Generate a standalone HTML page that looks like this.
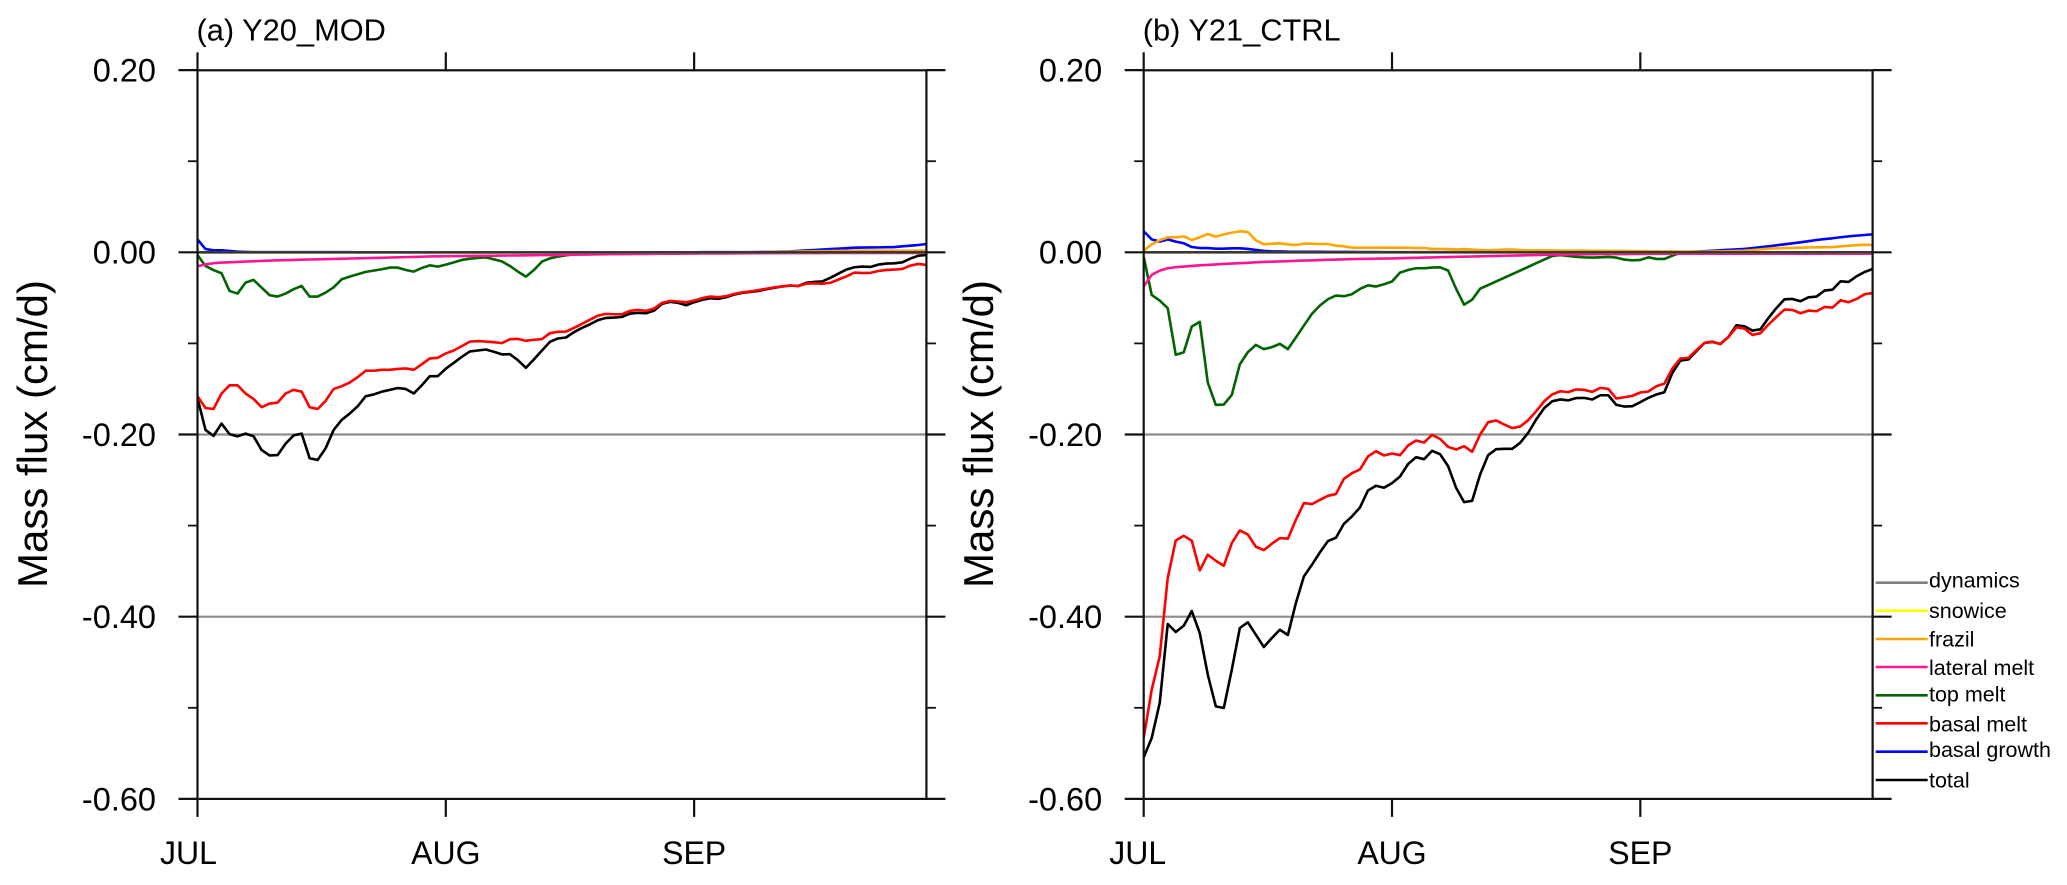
<!DOCTYPE html>
<html>
<head>
<meta charset="utf-8">
<title>Mass flux</title>
<style>
html,body{margin:0;padding:0;background:#fff;}
body{width:2067px;height:885px;overflow:hidden;}
svg{display:block;font-family:"Liberation Sans",sans-serif;fill:#000;}
</style>
</head>
<body>
<svg id="chart" xmlns="http://www.w3.org/2000/svg" width="2067" height="885" viewBox="0 0 2067 885">
<rect width="2067" height="885" fill="#fff"/>
<g id="panels"></g>
<g font-size="21.5">
<g><line x1="1875.7" x2="1927.7" y1="582.7" y2="582.7" stroke="#808080" stroke-width="2.6"/><text x="1929" y="587.7">dynamics</text></g>
<g><line x1="1875.7" x2="1927.7" y1="610.7" y2="610.7" stroke="#ffff00" stroke-width="2.6"/><text x="1929" y="618">snowice</text></g>
<g><line x1="1875.7" x2="1927.7" y1="639" y2="639" stroke="#ffa500" stroke-width="2.6"/><text x="1929" y="646.7">frazil</text></g>
<g><line x1="1875.7" x2="1927.7" y1="667" y2="667" stroke="#ff1493" stroke-width="2.6"/><text x="1929" y="675">lateral melt</text></g>
<g><line x1="1875.7" x2="1927.7" y1="695.3" y2="695.3" stroke="#006400" stroke-width="2.6"/><text x="1929" y="701.7">top melt</text></g>
<g><line x1="1875.7" x2="1927.7" y1="723.3" y2="723.3" stroke="#ff0000" stroke-width="2.6"/><text x="1929" y="731.3">basal melt</text></g>
<g><line x1="1875.7" x2="1927.7" y1="751.7" y2="751.7" stroke="#0000ff" stroke-width="2.6"/><text x="1929" y="757">basal growth</text></g>
<g><line x1="1875.7" x2="1927.7" y1="780" y2="780" stroke="#000000" stroke-width="2.6"/><text x="1929" y="787.7">total</text></g>
</g>
</svg>
<script>
const monthLabels = ['JUL','AUG','SEP'];
const monthDays = [0,31,62];
const yMajorTicks = [0.2,0,-0.2,-0.4,-0.6];
const yTickLabels = ['0.20','0.00','-0.20','-0.40','-0.60'];
const yMinorTicks = [0.1,-0.1,-0.3,-0.5];
const gridValues = [-0.2,-0.4];

const totalA = [-.160,-.195,-.2015,-.188,-.1996,-.202,-.199,-.202,-.217,-.223,
-.2226,-.210,-.201,-.199,-.226,-.228,-.215,-.195,-.184,-.177,
-.169,-.158,-.156,-.153,-.151,-.149,-.150,-.155,-.146,-.136,
-.136,-.1278,-.1213,-.1147,-.1088,-.1078,-.1067,-.1092,-.1121,-.1118,
-.1184,-.1268,-.1176,-.1078,-.0983,-.0946,-.0935,-.0877,-.083,-.079,
-.0745,-.072,-.0716,-.0709,-.0672,-.0665,-.0669,-.064,-.0566,-.0544,
-.0555,-.0581,-.0548,-.0522,-.0504,-.0511,-.0493,-.0464,-.0445,-.0435,
-.0425,-.0405,-.039,-.0375,-.0365,-.037,-.0335,-.0325,-.032,-.028,
-.0235,-.019,-.0164,-.0157,-.0161,-.0135,-.0124,-.0121,-.011,-.0069,-.0037,-.0029];
const basalMeltA = [-.158,-.171,-.172,-.155,-.146,-.146,-.155,-.161,-.170,-.166,
-.165,-.155,-.151,-.153,-.170,-.172,-.163,-.150,-.147,-.143,
-.137,-.130,-.130,-.129,-.129,-.128,-.1275,-.129,-.123,-.1165,
-.1158,-.111,-.1077,-.103,-.098,-.0975,-.098,-.0987,-.0997,-.0954,
-.095,-.0972,-.096,-.0953,-.0888,-.0873,-.087,-.083,-.0785,-.074,
-.0695,-.0676,-.068,-.068,-.0643,-.0632,-.0643,-.0617,-.0555,-.0533,
-.054,-.0548,-.053,-.0504,-.0486,-.0493,-.0482,-.0457,-.044,-.043,
-.0415,-.04,-.0385,-.0375,-.0365,-.037,-.0345,-.034,-.0345,-.0335,
-.03,-.0265,-.0223,-.0226,-.0226,-.0205,-.0194,-.019,-.0183,-.0146,-.0128,-.0139];
const topMeltA = [-.003,-.015,-.0195,-.023,-.0424,-.0453,-.0333,-.0303,-.0387,-.0471,
-.0486,-.0453,-.0405,-.0369,-.0486,-.0486,-.0442,-.0384,-.0296,-.0267,
-.0241,-.0215,-.0201,-.0186,-.0168,-.0168,-.0194,-.0212,-.0172,-.0143,
-.0157,-.0135,-.011,-.0084,-.007,-.0062,-.0055,-.0077,-.01,-.015,
-.0212,-.0267,-.0194,-.0102,-.0066,-.0047,-.0033,-.0022,-.0015,-.0012,
-.001,-.001,-.0008,-.0008,-.0006,-.0006,-.0005,-.0005,-.0005,-.0006,
-.0008,-.0012,-.0006,-.0004,-.0003,-.0003,-.0002,-.0002,-.0001,-.0001,
-.0001,-.0001,-.0001,-.0001,-.0001,-.0001,-.0001,-.0001,-.0001,-.0001,
-.0001,-.0001,-.0001,-.0001,-.0001,-.0001,-.0001,-.0001,-.0001,-.0001,-.0001,-.0001];
const lateralMeltA = [-.0153,-.0132,-.012,-.0113,-.011,-.0106,-.0102,-.0098,-.0095,-.0091,
-.0088,-.0086,-.0084,-.0081,-.0079,-.0077,-.0075,-.0073,-.0071,-.0068,
-.0066,-.0064,-.0062,-.006,-.0057,-.0055,-.0053,-.0051,-.0049,-.0045,
-.0044,-.0043,-.0042,-.0041,-.004,-.0039,-.0038,-.0037,-.0036,-.0035,
-.0034,-.0033,-.0032,-.0031,-.003,-.0029,-.0028,-.0026,-.0025,-.0023,
-.0022,-.0021,-.002,-.002,-.0019,-.0018,-.0018,-.0017,-.0016,-.0015,
-.0015,-.0014,-.0014,-.0013,-.0013,-.0012,-.0012,-.0011,-.0011,-.001,
-.001,-.001,-.0009,-.0009,-.0009,-.0008,-.0008,-.0008,-.0008,-.0007,
-.0007,-.0007,-.0007,-.0007,-.0007,-.0007,-.0007,-.0007,-.0007,-.0007,-.0007,-.0007];
const basalGrowthA = [.0142,.0036,.0022,.0022,.0015,.0007,.0004,.0002,.0001,.0001,
.0001,.0001,.0001,.0001,.0001,.0001,.0001,.0001,.0001,.0001,
0,0,0,0,0,0,0,0,0,0,
0,0,0,0,0,0,0,0,0,0,
0,0,0,0,0,0,0,0,0,0,
0,0,0,0,0,0,0,0,0,0,
0,0,0,.0001,.0001,.0001,.0001,.0001,.0002,.0002,
.0003,.0004,.0006,.0008,.001,.0015,.002,.0025,.003,.0035,
.004,.0045,.0051,.0052,.0053,.0054,.0056,.0058,.0066,.0073,.008,.0091];
const frazilA = [0,0,0,0,0,0,0,0,0,0,
0,0,0,0,0,0,0,0,0,0,
0,0,0,0,0,0,0,0,0,0,
0,0,0,0,0,0,0,0,0,0,
0,0,0,0,0,0,0,0,0,0,
0,0,0,0,0,0,0,0,0,0,
0,0,0,0,0,0,0,0,0,0,
.0002,.0003,.0004,.0005,.0006,.0008,.001,.0011,.0012,.0014,
.0015,.0016,.0018,.0018,.0018,.0018,.0018,.0018,.0018,.0018,.0018,.0018];

const totalB = [-.5543,-.5331,-.4947,-.408,-.4168,-.4099,-.3938,-.4179,-.4636,-.4984,
-.5002,-.4581,-.4124,-.4062,-.4197,-.4333,-.4234,-.4143,-.4201,-.385,
-.3558,-.343,-.3294,-.317,-.3133,-.298,-.2899,-.2801,-.2614,-.2563,
-.2585,-.2534,-.2461,-.2325,-.2249,-.2271,-.2179,-.2216,-.2347,-.2585,
-.2742,-.2728,-.2439,-.2227,-.2161,-.2157,-.2157,-.2091,-.1982,-.1835,
-.171,-.1635,-.1615,-.1625,-.16,-.1598,-.1616,-.1569,-.1569,-.1675,
-.1693,-.1689,-.1645,-.1598,-.1561,-.1536,-.1324,-.1188,-.1177,-.1086,
-.0995,-.0984,-.1005,-.0929,-.0801,-.0812,-.0859,-.0845,-.072,-.0611,
-.0516,-.0512,-.0537,-.0494,-.0486,-.042,-.041,-.0318,-.0325,-.0263,-.0216,-.0183];
const basalMeltB = [-.5331,-.4801,-.4435,-.3576,-.3163,-.3112,-.3166,-.3492,-.332,-.3386,
-.3441,-.3192,-.3053,-.3097,-.3232,-.3269,-.3199,-.3137,-.3144,-.2936,
-.2753,-.2764,-.2717,-.2673,-.2654,-.2486,-.2424,-.2384,-.2241,-.2183,
-.223,-.2208,-.2227,-.2121,-.2066,-.2088,-.2004,-.2048,-.2135,-.2165,
-.2128,-.219,-.2,-.1865,-.1846,-.189,-.193,-.1912,-.1843,-.1744,
-.1635,-.156,-.1525,-.1535,-.1505,-.151,-.1532,-.1488,-.1499,-.1605,
-.1591,-.1576,-.1539,-.1528,-.147,-.1441,-.1276,-.1166,-.1159,-.1075,
-.0995,-.098,-.1009,-.0929,-.0823,-.0837,-.0907,-.0888,-.0793,-.0709,
-.0629,-.0633,-.0669,-.064,-.0647,-.06,-.0607,-.0527,-.0548,-.0512,-.0461,-.0446];
const topMeltB = [-.005,-.0468,-.053,-.0614,-.1125,-.1099,-.0815,-.0764,-.143,-.1675,
-.1671,-.1565,-.123,-.1096,-.1016,-.1063,-.1041,-.1005,-.1063,-.0935,
-.0804,-.0676,-.0584,-.0515,-.0475,-.0482,-.046,-.0402,-.0362,-.0376,
-.0351,-.0321,-.0223,-.0194,-.0175,-.0175,-.0168,-.0165,-.02,-.04,
-.0575,-.052,-.04,-.036,-.032,-.028,-.024,-.02,-.016,-.012,
-.008,-.004,-.003,-.004,-.005,-.0055,-.0058,-.0055,-.0051,-.0058,
-.008,-.0088,-.0084,-.0055,-.0073,-.0073,-.0037,-.0007,-.0003,-.0002,
-.0001,-.0001,-.0001,-.0001,-.0001,-.0001,-.0001,-.0001,-.0001,-.0001,
-.0001,-.0001,-.0001,-.0001,-.0001,-.0001,-.0001,-.0001,-.0001,-.0001,-.0001,-.0001];
const lateralMeltB = [-.0376,-.0248,-.0201,-.0175,-.0164,-.0157,-.015,-.0143,-.0139,-.0133,
-.0128,-.0124,-.012,-.0115,-.011,-.0106,-.0103,-.01,-.0097,-.0094,
-.0091,-.0088,-.0085,-.0083,-.008,-.0077,-.0075,-.0073,-.0072,-.007,
-.0069,-.0067,-.0065,-.0062,-.006,-.0058,-.0056,-.0054,-.0052,-.005,
-.0048,-.0046,-.0044,-.0042,-.004,-.0038,-.0036,-.0034,-.0032,-.003,
-.0028,-.0027,-.0026,-.0024,-.0023,-.0022,-.0021,-.002,-.002,-.0019,
-.0019,-.0018,-.0018,-.0017,-.0017,-.0016,-.0016,-.0015,-.0015,-.0015,
-.0015,-.0015,-.0015,-.0015,-.0015,-.0015,-.0015,-.0015,-.0015,-.0015,
-.0015,-.0015,-.0015,-.0015,-.0015,-.0015,-.0015,-.0015,-.0015,-.0015,-.0015,-.0015];
const basalGrowthB = [.023,.0142,.0117,.0142,.0117,.0099,.0058,.0047,.0047,.004,
.004,.0044,.0044,.0037,.0026,.0015,.001,.001,.0007,.0006,
.0005,.0005,.0005,.0004,.0004,.0004,.0004,.0003,.0003,.0003,
.0002,.0002,.0002,.0002,.0002,.0002,.0002,.0002,.0002,.0002,
.0002,.0002,.0002,.0002,.0002,.0002,.0002,.0002,.0002,.0002,
.0002,.0002,.0002,.0002,.0002,.0002,.0002,.0002,.0002,.0002,
.0002,.0002,.0002,.0002,.0003,.0003,.0003,.0004,.0005,.0008,
.0012,.0016,.0022,.0027,.0032,.0037,.0046,.0056,.0066,.0077,
.0088,.0099,.011,.0122,.0135,.0145,.0154,.0165,.0175,.0183,.019,.0197];
const frazilB = [.0018,.0088,.0132,.0164,.0164,.0175,.0135,.0164,.0201,.0172,
.0197,.0216,.023,.0223,.0132,.0088,.0095,.0099,.0088,.008,
.0095,.0095,.0091,.0091,.0073,.0066,.0051,.0051,.0051,.0051,
.0051,.0051,.0051,.0051,.0047,.0047,.0037,.0037,.0035,.003,
.0035,.003,.0025,.0022,.0025,.003,.003,.0025,.0022,.0022,
.002,.002,.0018,.0018,.0018,.0018,.0017,.0016,.0015,.0015,
.0015,.0014,.0013,.0012,.0011,.001,.0009,.0008,.0008,.0007,
.0007,.0008,.001,.0012,.0015,.0018,.0025,.0032,.004,.0043,
.0046,.0048,.0051,.0053,.0055,.0056,.0058,.0065,.0073,.0078,.0084,.008];

const snowice = [0,0,0,0,0,0,0,0,0,0,0,0,0,0,0,0,0,0,0,0,0,0,0,0,0,0,0,0,0,0,0,0,0,0,0,0,0,0,0,0,0,0,0,0,0,0,
0,0,0,0,0,0,0,0,0,0,0,0,0,0,0,0,0,0,0,0,0,0,0,0,0,0,0,0,0,0,0,0,0,0,0,0,0,0,0,0,0,0,0,0,0,0];
const dynamics = [0,0,0,0,0,0,0,0,0,0,0,0,0,0,0,0,0,0,0,0,0,0,0,0,0,0,0,0,0,0,0,0,0,0,0,0,0,0,0,0,0,0,0,0,0,0,
0,0,0,0,0,0,0,0,0,0,0,0,0,0,0,0,0,0,0,0,0,0,0,0,0,0,0,0,0,0,0,0,0,0,0,0,0,0,0,0,0,0,0,0,0,0];

const SVGNS = 'http://www.w3.org/2000/svg';
const yZeroPx = 252.3, pxPerUnit = 911, plotTop = 70.3, plotBottom = 798.9, dayPx = 8.01;
const AXIS = '#111';

function make(parent, tag, attrs) {
  const el = document.createElementNS(SVGNS, tag);
  for (const k in attrs) el.setAttribute(k, attrs[k]);
  parent.appendChild(el);
  return el;
}
function yScale(v) { return yZeroPx - pxPerUnit * v; }

function drawPanel(root, p) {
  const xScale = function (d) { return p.left + dayPx * d; };
  const right = xScale(91);
  const g = make(root, 'g', {});
  
  

  const title = make(g, 'text', { x: p.left - 1, y: 40.7, 'font-size': 30.8 });
  title.textContent = p.title;
  
  

  const yTitle = make(g, 'text', { transform: 'translate(' + (p.left - 150.7) + ',434) rotate(-90)', 'text-anchor': 'middle', 'font-size': 42 });
  yTitle.textContent = 'Mass flux (cm/d)';
  
  

  gridValues.forEach(function (v) {
    const grid = make(g, 'line', { x1: p.left, x2: right, y1: yScale(v), y2: yScale(v), stroke: '#8c8c8c', 'stroke-width': 2.2 });
    
    
  });

  p.series.forEach(function (s) {
    const pts = s.values.map(function (v, i) { return xScale(i).toFixed(2) + ',' + yScale(v).toFixed(2); }).join(' ');
    const line = make(g, 'polyline', { points: pts, fill: 'none', stroke: s.color, 'stroke-width': 2.6, 'stroke-linejoin': 'round' });
    
    
  });

  const zero = make(g, 'line', { x1: p.left, x2: right, y1: yScale(0), y2: yScale(0), stroke: '#333', 'stroke-width': 2.4 });
  
  

  const frame = make(g, 'rect', { x: p.left, y: plotTop, width: right - p.left, height: plotBottom - plotTop, fill: 'none', stroke: AXIS, 'stroke-width': 2.2 });
  
  

  yMajorTicks.forEach(function (v, i) {
    const y = yScale(v);
    const tl = make(g, 'line', { x1: p.left - 19, x2: p.left, y1: y, y2: y, stroke: AXIS, 'stroke-width': 2.2 });
    
    
    const tr = make(g, 'line', { x1: right, x2: right + 19, y1: y, y2: y, stroke: AXIS, 'stroke-width': 2.2 });
    
    
    const label = make(g, 'text', { x: p.left - 41.5, y: y + 11.4, 'text-anchor': 'end', 'font-size': 32.5 });
    label.textContent = yTickLabels[i];
    
    
  });
  yMinorTicks.forEach(function (v) {
    const y = yScale(v);
    const ml = make(g, 'line', { x1: p.left - 9.5, x2: p.left, y1: y, y2: y, stroke: AXIS, 'stroke-width': 1.8 });
    
    
    const mr = make(g, 'line', { x1: right, x2: right + 9.5, y1: y, y2: y, stroke: AXIS, 'stroke-width': 1.8 });
    
    
  });
  monthDays.forEach(function (d, i) {
    const x = xScale(d);
    const tt = make(g, 'line', { x1: x, x2: x, y1: plotTop - 18, y2: plotTop, stroke: AXIS, 'stroke-width': 2.2 });
    
    
    const tb = make(g, 'line', { x1: x, x2: x, y1: plotBottom, y2: plotBottom + 18, stroke: AXIS, 'stroke-width': 2.2 });
    
    
    const label = make(g, 'text', { x: i === 0 ? x + p.julShift : x, y: 864, 'text-anchor': 'middle', 'font-size': 32 });
    label.textContent = monthLabels[i];
    
    
  });
}

const root = document.getElementById('panels');
drawPanel(root, {
  key: 'panel-a', title: '(a) Y20_MOD', left: 197.5, julShift: -9,
  series: [
    { name: 'total', color: '#000000', values: totalA },
    { name: 'basal-growth', color: '#0000ff', values: basalGrowthA },
    { name: 'basal-melt', color: '#ff0000', values: basalMeltA },
    { name: 'top-melt', color: '#006400', values: topMeltA },
    { name: 'frazil', color: '#ffa500', values: frazilA },
    { name: 'lateral-melt', color: '#ff1493', values: lateralMeltA },
    { name: 'snowice', color: '#ffff00', values: snowice },
    { name: 'dynamics', color: '#808080', values: dynamics }
  ]
});
drawPanel(root, {
  key: 'panel-b', title: '(b) Y21_CTRL', left: 1143.7, julShift: -6,
  series: [
    { name: 'total', color: '#000000', values: totalB },
    { name: 'basal-growth', color: '#0000ff', values: basalGrowthB },
    { name: 'basal-melt', color: '#ff0000', values: basalMeltB },
    { name: 'top-melt', color: '#006400', values: topMeltB },
    { name: 'frazil', color: '#ffa500', values: frazilB },
    { name: 'lateral-melt', color: '#ff1493', values: lateralMeltB },
    { name: 'snowice', color: '#ffff00', values: snowice },
    { name: 'dynamics', color: '#808080', values: dynamics }
  ]
});
</script>
</body>
</html>
